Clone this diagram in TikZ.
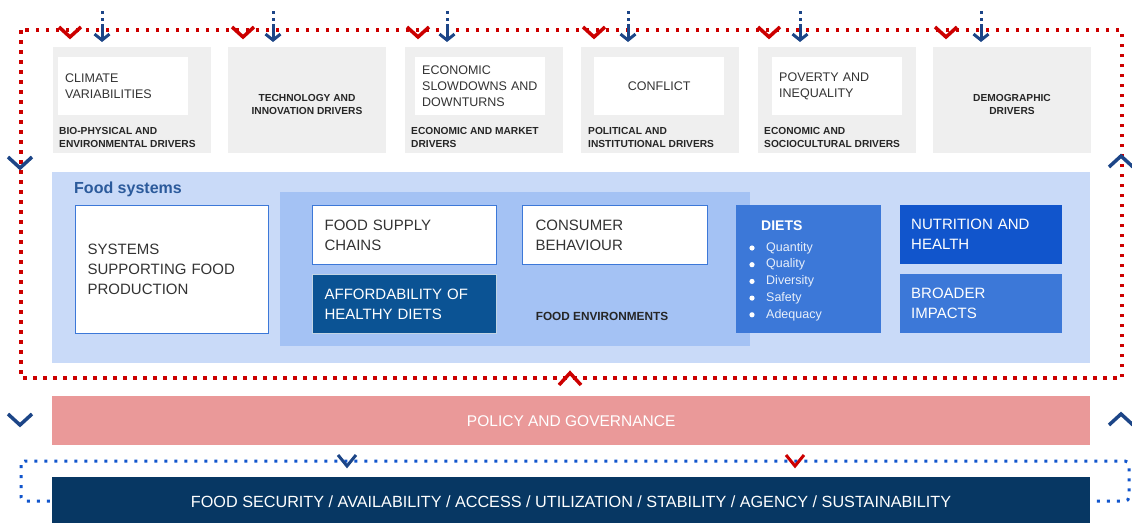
\documentclass[tikz,border=0pt]{standalone}
\usepackage{fontspec}
\setmainfont{Liberation Sans}
\usepackage{xcolor}
\usetikzlibrary{arrows.meta,positioning}

\definecolor{drvgrey}{HTML}{EFEFEF}
\definecolor{fsblue}{HTML}{C9DAF8}
\definecolor{envblue}{HTML}{A4C2F4}
\definecolor{midblue}{HTML}{3C78D8}
\definecolor{deepblue}{HTML}{1155CC}
\definecolor{affblue}{HTML}{0B5394}
\definecolor{secnavy}{HTML}{073763}
\definecolor{chevnavy}{HTML}{1C4587}
\definecolor{loopred}{HTML}{CC0000}
\definecolor{polpink}{HTML}{EA9999}
\definecolor{txtgrey}{HTML}{333333}
\definecolor{titleblue}{HTML}{2B5A9B}

\begin{document}
\begin{tikzpicture}[x=1pt, y=-1pt,
    drvbox/.style={fill=drvgrey, minimum width=158, minimum height=106, anchor=north west, inner sep=0},
    innerbox/.style={fill=white, anchor=north west, minimum height=58, text width=116, inner xsep=7, inner ysep=0, align=left, text=txtgrey, font=\fontsize{12.5}{16}\selectfont},
    drvlabel/.style={anchor=north west, inner sep=0, align=left, text=black!85, font=\fontsize{10.2}{13}\selectfont\bfseries},
    fsbox/.style={anchor=north west, inner ysep=0, align=left, font=\fontsize{15}{20}\selectfont},
    chevred/.style={draw=loopred, line width=3.5pt, line join=miter},
    chevblue/.style={draw=chevnavy, line width=3.5pt, line join=miter},
    drvarrow/.style={draw=chevnavy, line width=3pt, dash pattern=on 3pt off 4pt on 3pt off 3pt on 40pt, shorten >=5pt, -{Straight Barb[length=6pt,width=15pt]}}]
    \useasboundingbox (0,0) rectangle (1132,522);
    %RED LOOP
    \draw[loopred, line width=3.5pt, dash pattern=on 3.5pt off 6.5pt] (21,30) rectangle (1122,378);
    %BLUE LOOP
    \draw[deepblue, line width=3pt, dash pattern=on 3pt off 7pt, rounded corners=4pt] (21,461) rectangle (1129,501);
    %DRIVERS
    \foreach \x [count=\n] in {53,228,405,581,758,933}
        \node[drvbox] (drv\n) at (\x,47) {};
    \node[innerbox] (climate) at (58,57) {CLIMATE\\VARIABILITIES};
    \node[innerbox] (slowdown) at (415,57) {ECONOMIC\\SLOWDOWNS AND\\DOWNTURNS};
    \node[innerbox, align=center] (conflict) at (594,57) {CONFLICT};
    \node[innerbox] (poverty) at (772,57) {POVERTY AND\\INEQUALITY};
    \node[drvlabel] (biolbl) at (59,127) {BIO-PHYSICAL AND\\ENVIRONMENTAL DRIVERS};
    \node[drvlabel, anchor=center, align=center] (techlbl) at (307,104) {TECHNOLOGY AND\\INNOVATION DRIVERS};
    \node[drvlabel] (ecolbl) at (411,127) {ECONOMIC AND MARKET\\DRIVERS};
    \node[drvlabel] (pollbl) at (588,127) {POLITICAL AND\\INSTITUTIONAL DRIVERS};
    \node[drvlabel] (soclbl) at (764,127) {ECONOMIC AND\\SOCIOCULTURAL DRIVERS};
    \node[drvlabel, anchor=center, align=center] (demlbl) at (1012,104) {DEMOGRAPHIC\\DRIVERS};
    %ARROWS INTO DRIVERS
    \foreach \x [count=\n] in {102,273,447,628,800,981} {
        \coordinate (src\n) at (\x,11);
        \draw[drvarrow] (src\n) -- (src\n |- drv\n.north);
    }
    \foreach \x in {70,243,418,594,769,946}
        \draw[chevred] (\x-11,27) -- (\x,37) -- (\x+11,27);
    %FOOD SYSTEMS
    \node[fill=fsblue, minimum width=1038, minimum height=191, anchor=north west, inner sep=0] (fs) at (52,172) {};
    \node[anchor=west, inner sep=0, text=titleblue, font=\fontsize{16}{18}\selectfont\bfseries] (fstitle) at (74,189) {Food systems};
    \node[fill=envblue, minimum width=470, minimum height=154, anchor=north west, inner sep=0] (env) at (280,192) {};
    \node[fsbox, fill=white, draw=midblue, line width=1.2pt, minimum height=128, text width=169, inner xsep=12, text=txtgrey] (support) at (75,205) {SYSTEMS\\SUPPORTING FOOD\\PRODUCTION};
    \node[fsbox, fill=white, draw=midblue, line width=1.2pt, minimum height=59, text width=160, inner xsep=12, text=txtgrey] (supply) at (312,205) {FOOD SUPPLY\\CHAINS};
    \node[fsbox, fill=white, draw=midblue, line width=1.2pt, minimum height=59, text width=159, inner xsep=13, text=txtgrey] (consumer) at (522,205) {CONSUMER\\BEHAVIOUR};
    \node[fsbox, fill=affblue, draw=white!75!affblue, line width=1.2pt, minimum height=59, text width=160, inner xsep=12, text=white] (afford) at (312,274) {AFFORDABILITY OF\\HEALTHY DIETS};
    \node[inner sep=0, text=black!85, font=\fontsize{11.8}{13}\selectfont\bfseries] (envlbl) at (602,316) {FOOD ENVIRONMENTS};
    %DIETS
    \node[fill=midblue, minimum width=145, minimum height=128, anchor=north west, inner sep=0] (diets) at (736,205) {};
    \node[anchor=west, inner sep=0, text=white, font=\fontsize{14}{16}\selectfont\bfseries] (dietstitle) at (761,226) {DIETS};
    \foreach \t [count=\i] in {Quantity,Quality,Diversity,Safety,Adequacy} {
        \fill[white] (752,248+16.7*\i-16.7) circle (2.6pt);
        \node[anchor=west, inner sep=0, text=white!88!midblue, font=\fontsize{12.5}{14}\selectfont] (diet\i) at (766,248+16.7*\i-16.7) {\t};
    }
    %OUTCOMES
    \node[fsbox, fill=deepblue, minimum height=59, text width=140, inner xsep=11, text=white] (nutrition) at (900,205) {NUTRITION AND\\HEALTH};
    \node[fsbox, fill=midblue, minimum height=59, text width=140, inner xsep=11, text=white] (broader) at (900,274) {BROADER\\IMPACTS};
    %SIDE CHEVRONS
    \draw[chevblue] (8,157) -- (20,168) -- (32,157);
    \draw[chevblue] (1109,167) -- (1121,156) -- (1133,167);
    \draw[chevred] (559,385) -- (570,373) -- (581,385);
    \draw[chevblue] (8,414) -- (20,425) -- (32,414);
    \draw[chevblue] (1109,425) -- (1121,414) -- (1133,425);
    %POLICY
    \node[fill=polpink, minimum width=1038, minimum height=49, anchor=north west, inner sep=0] (policy) at (52,396) {};
    \node[text=white, inner sep=0, font=\fontsize{15.5}{18}\selectfont] (policytxt) at (policy.center) {POLICY AND GOVERNANCE};
    \draw[chevblue, line width=3pt] (338,455) -- (347,466) -- (356,455);
    \draw[chevred, line width=3pt] (786,455) -- (795,466) -- (804,455);
    %FOOD SECURITY
    \node[fill=secnavy, minimum width=1038, minimum height=50, anchor=north west, inner sep=0] (security) at (52,477) {};
    \node[text=white, inner sep=0, font=\fontsize{16.2}{18}\selectfont] (securitytxt) at (571,502) {FOOD SECURITY / AVAILABILITY / ACCESS / UTILIZATION / STABILITY / AGENCY / SUSTAINABILITY};
\end{tikzpicture}
\end{document}
